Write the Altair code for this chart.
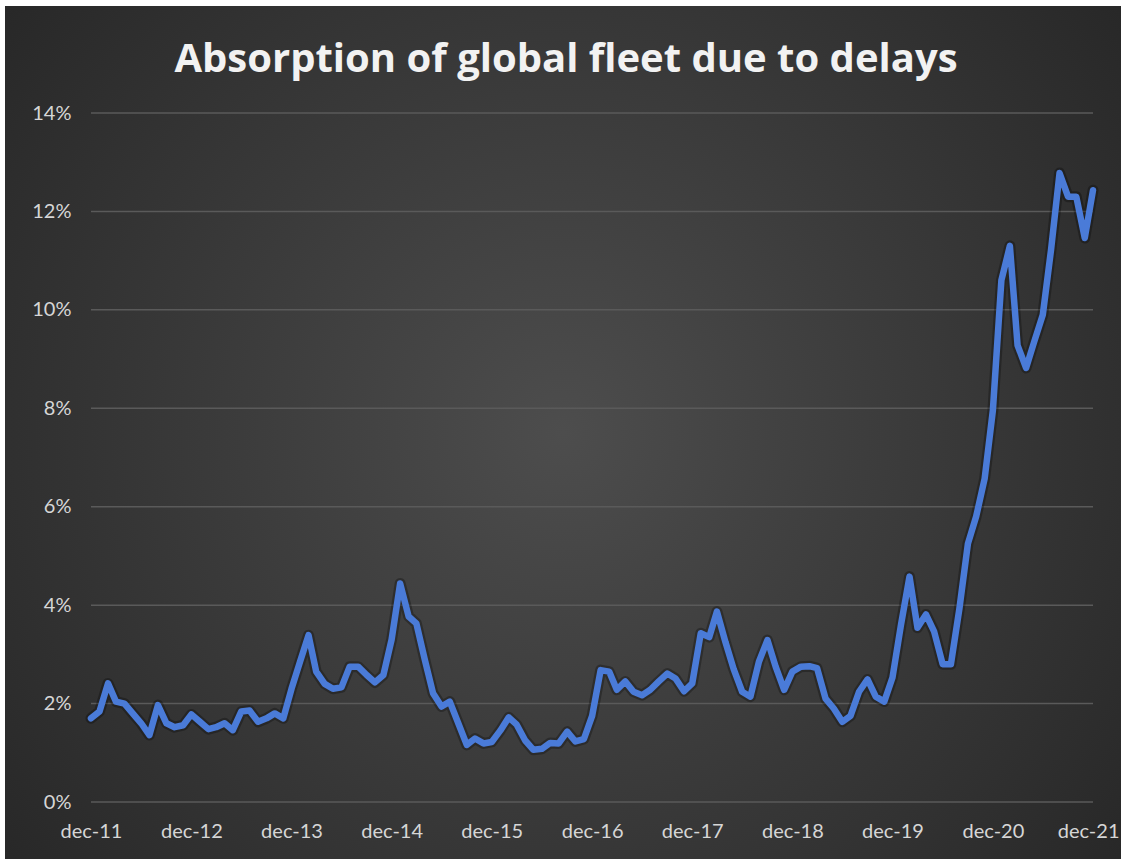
import altair as alt
import pandas as pd

# ---- data ----
months = pd.date_range("2011-12-01", periods=121, freq="MS").strftime("%Y-%m-%d").tolist()
absorption_pct = [
    1.70, 1.84, 2.41, 2.04, 2.00, 1.80, 1.60, 1.36, 1.97, 1.60, 1.52, 1.56,
    1.78, 1.63, 1.48, 1.52, 1.60, 1.46, 1.84, 1.86, 1.63, 1.70, 1.80, 1.70,
    2.30, 2.85, 3.39, 2.65, 2.40, 2.30, 2.33, 2.75, 2.75, 2.58, 2.43, 2.58,
    3.30, 4.44, 3.77, 3.63, 2.89, 2.21, 1.94, 2.04, 1.60, 1.16, 1.29, 1.19,
    1.22, 1.45, 1.72, 1.57, 1.25, 1.06, 1.08, 1.20, 1.19, 1.43, 1.23, 1.28,
    1.75, 2.68, 2.65, 2.28, 2.45, 2.24, 2.17, 2.28, 2.45, 2.61, 2.51, 2.25,
    2.41, 3.43, 3.35, 3.87, 3.25, 2.70, 2.24, 2.14, 2.85, 3.29, 2.75, 2.28,
    2.65, 2.75, 2.76, 2.72, 2.10, 1.90, 1.63, 1.75, 2.24, 2.49, 2.14, 2.04,
    2.53, 3.60, 4.58, 3.54, 3.81, 3.46, 2.80, 2.80, 3.93, 5.25, 5.80, 6.57,
    7.96, 10.60, 11.30, 9.28, 8.82, 9.36, 9.90, 11.22, 12.78, 12.30, 12.30, 11.46, 12.43,
]
y_ticks = [0, 2, 4, 6, 8, 10, 12, 14]
x_tick_years = list(range(2011, 2022))
title_text = "Absorption of global fleet due to delays"

W, H = 1002, 689

df = pd.DataFrame({"month": months, "value": absorption_pct})
grid_df = pd.DataFrame({"v": y_ticks})
title_df = pd.DataFrame({"t": [title_text]})

xscale = alt.Scale(
    type="utc",
    domain=[alt.DateTime(year=2011, month=12, date=1, utc=True),
            alt.DateTime(year=2021, month=12, date=1, utc=True)],
)
yscale = alt.Scale(domain=[0, 14], nice=False, zero=True)

label_style = dict(labelFont="Lato", labelFontSize=20, labelColor="#d6d6d6",
                   grid=False, domain=False, ticks=False, title=None, zindex=1)

y_axis = alt.Axis(values=y_ticks, labelExpr="datum.value + '%'", labelPadding=20, **label_style)

last_label = "utcyear(datum.value) == 2021"

bg = alt.Chart(pd.DataFrame({"a": [0]})).mark_rect(
    fill=alt.RadialGradient(
        gradient="radial",
        stops=[alt.GradientStop(offset=0, color="#4d4d4d"),
               alt.GradientStop(offset=1, color="#1f1f1f")],
        x1=0.5, y1=0.5, r1=0, x2=0.5, y2=0.5, r2=0.78,
    ),
    clip=False,
).encode(x=alt.value(-86), x2=alt.value(1030), y=alt.value(-107), y2=alt.value(746))

grid = alt.Chart(grid_df).mark_rule(color="#5a5a5a", strokeWidth=1.5).encode(
    y=alt.Y("v:Q", scale=yscale, axis=y_axis)
)

x_enc = alt.X(
    "month:T", scale=xscale,
    axis=alt.Axis(
        values=[alt.DateTime(year=y, month=12, date=1, utc=True) for y in x_tick_years],
        labelExpr="'dec-' + utcFormat(datum.value, '%y')",
        labelAlign={"condition": {"test": last_label, "value": "right"}, "value": "center"},
        labelOffset={"condition": {"test": last_label, "value": 26}, "value": 0},
        labelPadding=19, labelFlush=False, labelOverlap=False, **label_style,
    ),
)
y_enc = alt.Y("value:Q", scale=yscale, axis=y_axis)

shadow = alt.Chart(df).mark_line(
    color="#000000", opacity=0.28, strokeWidth=11, strokeJoin="round", strokeCap="round"
).encode(x=x_enc, y=y_enc)

line = alt.Chart(df).mark_line(
    color="#4a7bd8", strokeWidth=6.5, strokeJoin="round", strokeCap="round"
).encode(x=x_enc, y=y_enc)

title = alt.Chart(title_df).mark_text(
    font="Open Sans", fontSize=40, fontWeight="bold", color="#f2f2f2",
    align="center", baseline="alphabetic",
).encode(x=alt.value(475), y=alt.value(-41), text="t:N")

chart = alt.layer(bg, grid, shadow, line, title).properties(
    width=W, height=H,
    padding={"left": 91, "top": 113, "right": 28, "bottom": 57},
    autosize=alt.AutoSizeParams(type="none"),
    background="white",
).resolve_axis(y="shared").configure_view(stroke=None)

chart.save("out.html", embed_options={"renderer": "svg", "actions": False})
